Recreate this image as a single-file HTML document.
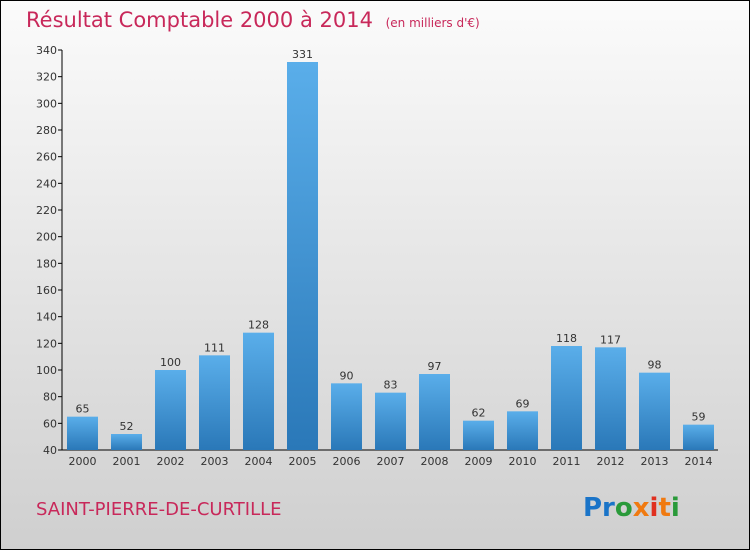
<!DOCTYPE html>
<html><head><meta charset="utf-8"><style>
html,body{margin:0;padding:0}
body{width:750px;height:550px;overflow:hidden;font-family:"DejaVu Sans","Liberation Sans",sans-serif}
</style></head><body>
<svg width="750" height="550" xmlns="http://www.w3.org/2000/svg">
<defs>
<linearGradient id="bg" x1="0" y1="0" x2="0" y2="1"><stop offset="0" stop-color="#fbfbfb"/><stop offset="1" stop-color="#cfcfcf"/></linearGradient>
<linearGradient id="bar" x1="0" y1="0" x2="0" y2="1"><stop offset="0" stop-color="#5aaeea"/><stop offset="1" stop-color="#2a78b8"/></linearGradient>
</defs>
<rect x="0.5" y="0.5" width="749" height="549" fill="url(#bg)" stroke="#000"/>
<text x="26" y="27" font-size="21" fill="#c8285a">Résultat Comptable 2000 à 2014 <tspan font-size="12" dx="6">(en milliers d'€)</tspan></text>
<g id="axes"></g>
<g id="bars"></g>
<text x="36" y="515" font-size="18" fill="#c8285a">SAINT-PIERRE-DE-CURTILLE</text>
<text x="583" y="516" font-size="26" font-weight="bold"><tspan fill="#1a74c8">Pr</tspan><tspan fill="#2a9a3a">o</tspan><tspan fill="#f07a10">x</tspan><tspan fill="#e03020">i</tspan><tspan fill="#f07a10">t</tspan><tspan fill="#2a9a3a">i</tspan></text>
</svg>
<script>
const years=["2000","2001","2002","2003","2004","2005","2006","2007","2008","2009","2010","2011","2012","2013","2014"];
const values=[65,52,100,111,128,331,90,83,97,62,69,118,117,98,59];
const ticks=[40,60,80,100,120,140,160,180,200,220,240,260,280,300,320,340];
const NS="http://www.w3.org/2000/svg";
const y=v=>450-(v-40)*400/300;
const xs=i=>67+i*44;
function mk(t,a,p,txt){const e=document.createElementNS(NS,t);for(const k in a)e.setAttribute(k,a[k]);if(txt!=null)e.textContent=txt;p.appendChild(e);return e;}
const ax=document.getElementById('axes'),bg=document.getElementById('bars');
const yl=mk('line',{x1:62,y1:50,x2:62,y2:450,stroke:'#000'},ax);


const xl=mk('line',{x1:62,y1:450,x2:718,y2:450,stroke:'#000'},ax);


ticks.forEach(t=>{
 mk('line',{x1:58,y1:y(t),x2:62,y2:y(t),stroke:'#000'},ax);
 const l=mk('text',{x:57,y:y(t)+4,'font-size':11,fill:'#333','text-anchor':'end'},ax,t);
 
 
});
values.forEach((v,i)=>{
 const r=mk('rect',{x:xs(i),y:y(v),width:31,height:450-y(v),fill:'url(#bar)'},bg);
 
 
 const vl=mk('text',{x:xs(i)+15.5,y:y(v)-4,'font-size':11,fill:'#333','text-anchor':'middle'},bg,v);
 
 
 const xlab=mk('text',{x:xs(i)+15.5,y:465,'font-size':11,fill:'#333','text-anchor':'middle'},bg,years[i]);
 
 
});
</script>
</body></html>
